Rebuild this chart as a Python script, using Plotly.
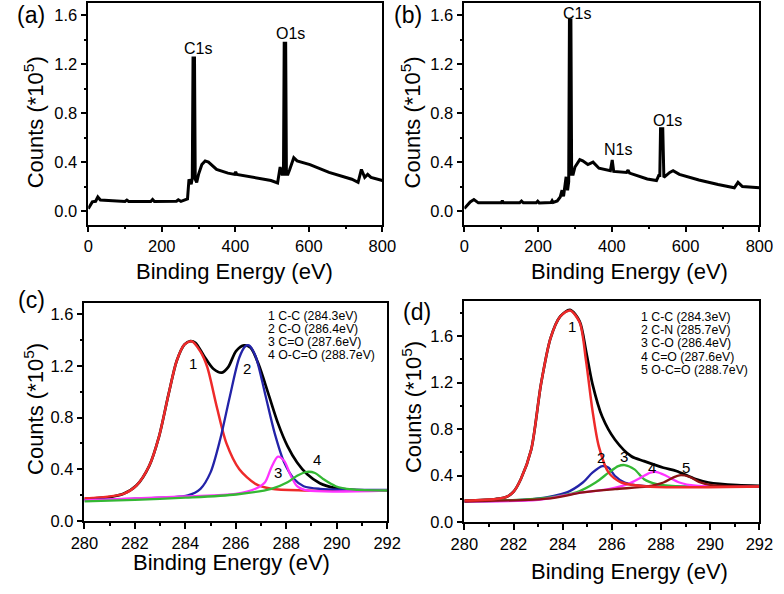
import plotly.graph_objects as go

W, H = 784, 594
FONT = "Liberation Sans, Arial, sans-serif"

# ---------------- (a) survey ----------------
a_x = [0, 11, 20, 26, 33, 60, 100, 105, 110, 170, 175, 180, 240, 245, 252, 270, 274, 280,
       283, 285, 289, 291, 295, 300, 309, 318, 327, 349, 380, 398, 401, 404, 454, 497, 515,
       522, 527, 531, 533, 537, 539, 543, 548, 559, 568, 603, 655, 717, 734, 743, 752, 760, 769, 800]
a_y = [0.02, 0.075, 0.08, 0.115, 0.09, 0.083, 0.078, 0.09, 0.078, 0.078, 0.095, 0.078, 0.08, 0.092, 0.08, 0.10, 0.26, 0.22,
       0.27, 1.25, 1.25, 0.26, 0.235, 0.30, 0.38, 0.41, 0.40, 0.34, 0.31, 0.30, 0.32, 0.30, 0.27, 0.25, 0.23,
       0.36, 0.30, 0.30, 1.37, 1.37, 0.30, 0.30, 0.34, 0.436, 0.41, 0.38, 0.316, 0.26, 0.235, 0.34, 0.275, 0.30, 0.275, 0.25]

# ---------------- (b) survey ----------------
b_x = [0, 16, 26, 38, 100, 103, 106, 150, 155, 160, 195, 199, 203, 235, 238, 241, 252, 260, 265, 269, 276, 280,
       283, 285, 289, 291, 295, 300, 313, 321, 335, 349, 365, 396, 401, 405, 440, 444, 448, 496, 521, 527,
       530, 532, 538, 541, 557, 566, 583, 636, 688, 732, 742, 754, 800]
b_y = [0.02, 0.075, 0.094, 0.067, 0.067, 0.085, 0.067, 0.067, 0.082, 0.067, 0.067, 0.08, 0.067, 0.07, 0.085, 0.07, 0.083, 0.115, 0.17, 0.12, 0.28, 0.17,
       0.24, 1.56, 1.56, 0.30, 0.30, 0.36, 0.42, 0.41, 0.38, 0.40, 0.35, 0.33, 0.417, 0.324, 0.316, 0.335, 0.31, 0.262, 0.249, 0.29,
       0.29, 0.672, 0.672, 0.276, 0.316, 0.33, 0.30, 0.254, 0.217, 0.19, 0.235, 0.20, 0.19]

# ---------------- (c) C1s fit ----------------
c_env_x = [280, 280.34, 281.0, 281.55, 282.06, 282.57, 282.96, 283.34, 283.66, 283.97, 284.2, 284.4, 284.74,
           285.12, 285.45, 285.7, 286.01, 286.33, 286.59, 286.90, 287.29, 287.67, 288.05, 288.43, 288.82,
           289.33, 289.96, 290.60, 292]
c_env_y = [0.172, 0.175, 0.185, 0.21, 0.274, 0.427, 0.655, 0.985, 1.24, 1.366, 1.392, 1.379, 1.277,
           1.176, 1.148, 1.19, 1.315, 1.359, 1.341, 1.214, 0.985, 0.757, 0.579, 0.452, 0.363,
           0.292, 0.254, 0.241, 0.236]
c1_x = [280, 280.34, 281.55, 282.06, 282.57, 282.96, 283.34, 283.66, 283.97, 284.25, 284.6, 284.87,
        285.25, 285.63, 286.14, 286.78, 287.41, 288.69, 292]
c1_y = [0.175, 0.178, 0.21, 0.274, 0.427, 0.655, 0.985, 1.24, 1.366, 1.39, 1.31, 1.19,
        0.88, 0.60, 0.40, 0.287, 0.249, 0.236, 0.236]
c2_x = [280, 282, 284.1, 284.6, 285.0, 285.38, 285.76, 286.14, 286.39, 286.52, 286.78, 287.16,
        287.54, 287.92, 288.31, 288.69, 289.33, 292]
c2_y = [0.16, 0.172, 0.198, 0.249, 0.376, 0.63, 0.96, 1.265, 1.354, 1.359, 1.277, 0.985,
        0.68, 0.452, 0.325, 0.269, 0.249, 0.241]
c3_x = [280, 284, 286, 286.78, 287.16, 287.41, 287.67, 287.92, 288.18, 288.43, 288.82, 292]
c3_y = [0.16, 0.19, 0.21, 0.25, 0.30, 0.414, 0.498, 0.465, 0.35, 0.269, 0.236, 0.236]
c4_x = [280, 282, 284, 286.01, 287.41, 288.05, 288.43, 288.82, 289.14, 289.46, 289.96, 290.6, 292]
c4_y = [0.152, 0.163, 0.18, 0.205, 0.249, 0.30, 0.35, 0.38, 0.371, 0.325, 0.269, 0.244, 0.236]

c_legend = ["1 C-C (284.3eV)", "2 C-O (286.4eV)", "3 C=O (287.6eV)", "4 O-C=O (288.7eV)"]
c_peak_labels = ["1", "2", "3", "4"]
c_peak_x = [284.3, 286.46, 287.67, 289.2]
c_peak_y = [1.22, 1.176, 0.376, 0.472]

# ---------------- (d) C1s fit ----------------
d_env_x = [280, 281.28, 281.7, 282.0, 282.3, 282.72, 283.12, 283.51, 283.90, 284.3, 284.69, 284.95, 285.21,
           285.61, 286.13, 286.79, 287.31, 288.1, 288.62, 289.4, 289.93, 291.1, 292]
d_env_y = [0.184, 0.198, 0.215, 0.26, 0.37, 0.623, 1.19, 1.586, 1.77, 1.827, 1.728, 1.473, 1.19,
           0.906, 0.708, 0.566, 0.524, 0.467, 0.439, 0.37, 0.34, 0.317, 0.312]
d1_x = [280, 281.28, 281.7, 282.0, 282.3, 282.72, 283.12, 283.51, 283.90, 284.3, 284.69, 284.95, 285.21,
        285.47, 285.87, 286.39, 287.44, 292]
d1_y = [0.184, 0.198, 0.215, 0.26, 0.37, 0.623, 1.19, 1.586, 1.77, 1.822, 1.72, 1.388, 0.963,
        0.651, 0.425, 0.34, 0.306, 0.306]
d2_x = [280, 282.86, 284.17, 284.82, 285.21, 285.61, 285.87, 286.13, 286.52, 287.18, 288, 292]
d2_y = [0.176, 0.198, 0.255, 0.34, 0.425, 0.481, 0.467, 0.396, 0.34, 0.312, 0.306, 0.306]
d3_x = [280, 282.86, 284.0, 284.56, 285.34, 285.87, 286.26, 286.52, 286.92, 287.31, 287.83, 288.75, 292]
d3_y = [0.176, 0.198, 0.23, 0.255, 0.34, 0.425, 0.481, 0.49, 0.453, 0.368, 0.326, 0.306, 0.306]
d4_x = [280, 283, 284.5, 285.87, 286.65, 287.18, 287.57, 287.83, 288.22, 288.75, 289.41, 292]
d4_y = [0.176, 0.19, 0.245, 0.283, 0.326, 0.382, 0.425, 0.43, 0.396, 0.34, 0.312, 0.306]
d5_x = [280, 283.51, 284.82, 286.13, 287.44, 288.10, 288.49, 288.75, 289.14, 289.54, 290.06, 292]
d5_y = [0.176, 0.204, 0.255, 0.283, 0.306, 0.34, 0.382, 0.402, 0.39, 0.345, 0.317, 0.306]

d_legend = ["1 C-C (284.3eV)", "2 C-N (285.7eV)", "3 C-O (286.4eV)", "4 C=O (287.6eV)", "5 O-C=O (288.7eV)"]
d_peak_labels = ["1", "2", "3", "4", "5"]
d_peak_x = [284.36, 285.54, 286.48, 287.63, 289.0]
d_peak_y = [1.685, 0.552, 0.561, 0.467, 0.467]

survey_labels_a = ["C1s", "O1s"]
survey_a_x = [298, 550]
survey_a_y = [1.331, 1.45]
survey_labels_b = ["C1s", "N1s", "O1s"]
survey_b_x = [306, 417, 550]
survey_b_y = [1.61, 0.50, 0.74]

RED, BLUE, MAG, GREEN, BROWN = "#ee2a2a", "#2323a8", "#ff33ff", "#34b834", "#8b1414"

fig = go.Figure()

def line(x, y, color, xa, ya, width=2.5, shape="linear"):
    fig.add_trace(go.Scatter(x=x, y=y, mode="lines", xaxis=xa, yaxis=ya,
                             line=dict(color=color, width=width, shape=shape,
                                       smoothing=0.8 if shape == "spline" else None),
                             showlegend=False, hoverinfo="skip"))

line(a_x, a_y, "black", "x", "y", 3)
line(b_x, b_y, "black", "x2", "y2", 3)

line(c_env_x, c_env_y, "black", "x3", "y3", 2.7, "spline")
line(c1_x, c1_y, RED, "x3", "y3", 2.5, "spline")
line(c2_x, c2_y, BLUE, "x3", "y3", 2.3, "spline")
line(c3_x, c3_y, MAG, "x3", "y3", 2.3, "spline")
line(c4_x, c4_y, GREEN, "x3", "y3", 2.3, "spline")

line(d_env_x, d_env_y, "black", "x4", "y4", 2.7, "spline")
line(d2_x, d2_y, BLUE, "x4", "y4", 2.3, "spline")
line(d3_x, d3_y, GREEN, "x4", "y4", 2.3, "spline")
line(d4_x, d4_y, MAG, "x4", "y4", 2.3, "spline")
line(d5_x, d5_y, BROWN, "x4", "y4", 2.3, "spline")
line(d1_x, d1_y, RED, "x4", "y4", 2.5, "spline")

TICKFONT = dict(family=FONT, size=16.5, color="black")

def xax(domain, rng, dtick, minor, anchor):
    return dict(domain=domain, range=rng, anchor=anchor, dtick=dtick, tick0=rng[0] if rng[0] >= 0 else 0,
                showline=True, linecolor="black", linewidth=1.5, mirror=True,
                ticks="outside", ticklen=6, tickwidth=1.5, tickcolor="black",
                minor=dict(dtick=minor, ticks="outside", ticklen=3, tickwidth=1.5, tickcolor="black", showgrid=False),
                showgrid=False, zeroline=False, tickfont=TICKFONT)

def yax(domain, rng, anchor):
    return dict(domain=domain, range=rng, anchor=anchor, dtick=0.4, tick0=0, tickformat=".1f",
                showline=True, linecolor="black", linewidth=1.5, mirror=True,
                ticks="outside", ticklen=6, tickwidth=1.5, tickcolor="black",
                minor=dict(dtick=0.2, ticks="outside", ticklen=3, tickwidth=1.5, tickcolor="black", showgrid=False),
                showgrid=False, zeroline=False, tickfont=TICKFONT)

def px(x):
    return x / W

def py(y):
    return 1 - y / H

fig.update_layout(
    width=W, height=H, margin=dict(l=0, r=0, t=0, b=0),
    paper_bgcolor="white", plot_bgcolor="white",
    xaxis=xax([px(77), px(382)], [0, 800], 200, 100, "y"),
    yaxis=yax([py(228), py(3)], [-0.11, 1.70], "x"),
    xaxis2=xax([px(467), px(773)], [0, 800], 200, 100, "y2"),
    yaxis2=yax([py(228), py(3)], [-0.11, 1.70], "x2"),
    xaxis3=xax([px(73), px(387)], [280, 292], 2, 1, "y3"),
    yaxis3=yax([py(529), py(308)], [0, 1.684], "x3"),
    xaxis4=xax([px(467), px(773)], [280, 292], 2, 1, "y4"),
    yaxis4=yax([py(530), py(306)], [0, 1.90], "x4"),
)

ann = []
def text(t, x, y, size, xref="paper", yref="paper", xanchor="center", yanchor="middle", angle=0, pad=1):
    ann.append(dict(text=t, x=x, y=y, xref=xref, yref=yref, xanchor=xanchor, yanchor=yanchor,
                    showarrow=False, textangle=angle, borderpad=pad,
                    font=dict(family=FONT, size=size, color="black")))

# panel labels
for lab, cx, cy in [("(a)", 18, 15), ("(b)", 409, 15), ("(c)", 18, 305), ("(d)", 418, 317)]:
    text(lab, px(cx), py(cy), 23)

# axis titles
ytitle = "Counts (*10<sup>5</sup>)"
for cx, cy in [(229, 276), (638, 276), (226, 571), (638, 580)]:
    text("Binding Energy (eV)", px(cx), py(cy), 22)
for cx, cy in [(21, 124), (412, 124), (20, 415), (412, 413)]:
    text(ytitle, px(cx), py(cy), 22, angle=-90)

# survey peak labels
for t, x, y in zip(survey_labels_a, survey_a_x, survey_a_y):
    text(t, x, y, 16, "x", "y")
for t, x, y in zip(survey_labels_b, survey_b_x, survey_b_y):
    text(t, x, y, 16, "x2", "y2")

# component numbers
for t, x, y in zip(c_peak_labels, c_peak_x, c_peak_y):
    text(t, x, y, 15, "x3", "y3")
for t, x, y in zip(d_peak_labels, d_peak_x, d_peak_y):
    text(t, x, y, 15, "x4", "y4")

# legend texts
for i, t in enumerate(c_legend):
    text(t, px(262), py(320.5 + 13.4 * i), 12.3, xanchor="left", pad=0)
for i, t in enumerate(d_legend):
    text(t, px(649), py(321.5 + 13.6 * i), 12.3, xanchor="left", pad=0)

fig.update_layout(annotations=ann)
fig.write_html("out.html", config={"displayModeBar": False},
               post_script="document.body.style.margin='0px';document.body.style.overflow='hidden';")
